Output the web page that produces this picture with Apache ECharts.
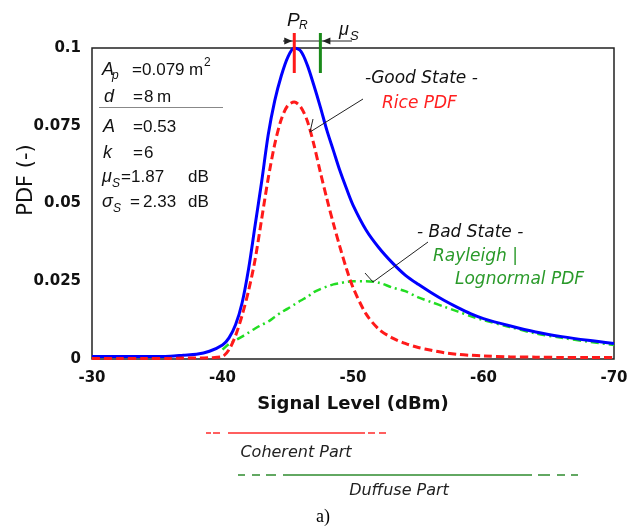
<!DOCTYPE html>
<html>
<head>
<meta charset="utf-8">
<script src="https://cdn.jsdelivr.net/npm/echarts@6.0.0/dist/echarts.min.js"></script>
<style>
html, body { margin: 0; padding: 0; background: #fff; }
#main { width: 640px; height: 527px; }
</style>
</head>
<body>
<div id="main"></div>
<script>
// signal level (dBm)
var levels = [-30, -32, -34, -36, -37, -38, -39, -40, -40.5, -41, -41.5, -42, -42.5, -43, -43.5,
    -44, -44.5, -45, -45.5, -46, -46.5, -47, -47.5, -48, -48.5, -49, -49.5, -50,
    -51, -52, -53, -54, -55, -56, -57, -58, -59, -60, -62, -64, -66, -68, -70];
// total pdf (blue)
var totalPdf = [0.0008, 0.0008, 0.0008, 0.0009, 0.0012, 0.0015, 0.0025, 0.0045,
    0.0068, 0.011, 0.018, 0.029, 0.043, 0.057, 0.072, 0.083, 0.091, 0.097, 0.1,
    0.099, 0.0945, 0.088, 0.081, 0.0735, 0.067, 0.0605, 0.0548, 0.0495,
    0.0415, 0.0357, 0.031, 0.027, 0.024, 0.0213, 0.0188, 0.0166, 0.0146, 0.013,
    0.0107, 0.0087, 0.0072, 0.006, 0.005];
// coherent part - Rice pdf (red)
var coherentPdf = [0.0002, 0.0002, 0.0002, 0.0002, 0.0003, 0.0003, 0.0004, 0.0008,
    0.003, 0.0075, 0.014, 0.022, 0.032, 0.045, 0.058, 0.069, 0.077, 0.0815, 0.0826,
    0.081, 0.0765, 0.069, 0.060, 0.0515, 0.0435, 0.036, 0.029, 0.023,
    0.0145, 0.0095, 0.0068, 0.005, 0.0037, 0.0028, 0.002, 0.0015, 0.0012, 0.001,
    0.0007, 0.0006, 0.0005, 0.0005, 0.0005];
// diffuse part - Rayleigh/Lognormal pdf (green)
var diffusePdf = [null, null, null, null, null, null, null, 0.003,
    0.0048, 0.006, 0.0072, 0.0085, 0.0098, 0.011, 0.012, 0.0135, 0.015, 0.0162, 0.0175,
    0.0188, 0.02, 0.0215, 0.0225, 0.0233, 0.024, 0.0244, 0.0248, 0.025,
    0.025, 0.0245, 0.023, 0.0218, 0.0198, 0.0183, 0.0168, 0.0153, 0.0138, 0.0125,
    0.0103, 0.0082, 0.0068, 0.0056, 0.0045];
var yTicks = [0, 0.025, 0.05, 0.075, 0.1];
var peakLevel = -45.5;   // P_R
var muLevel = -47.5;     // P_R - mu_S

function pairs(ys) {
    var out = [];
    for (var i = 0; i < levels.length; i++) out.push([levels[i], ys[i]]);
    return out;
}

function txt(x, y, s, size, opt) {
    opt = opt || {};
    var al = opt.align || 'left';
    return {
        type: 'text', x: x, y: y, silent: true, z: 100,
        rotation: opt.rotation || 0,
        style: {
            text: s, fontSize: size,
            fontFamily: opt.family || 'Liberation Sans',
            fontStyle: opt.italic ? 'italic' : 'normal',
            fontWeight: opt.bold ? 'bold' : 'normal',
            fill: opt.color || '#111',
            align: al, textAlign: al,
            verticalAlign: 'middle', textVerticalAlign: 'middle'
        }
    };
}

function seg(x1, y1, x2, y2, color, w, dash) {
    return {
        type: 'line', silent: true, z: 100,
        shape: {x1: x1, y1: y1, x2: x2, y2: y2},
        style: {stroke: color, lineWidth: w, lineDash: dash || null}
    };
}

function tri(pts, color) {
    return {type: 'polygon', silent: true, z: 100, shape: {points: pts}, style: {fill: color}};
}

var chart = echarts.init(document.getElementById('main'));

var option = {
    animation: false,
    backgroundColor: '#fff',
    grid: {
        left: 92, top: 48, width: 522, height: 311,
        show: true, borderColor: '#222', borderWidth: 1.5
    },
    xAxis: {
        type: 'value', min: -70, max: -30, interval: 10, inverse: true,
        name: 'Signal Level (dBm)', nameLocation: 'middle', nameGap: 36,
        nameTextStyle: {fontFamily: 'DejaVu Sans', fontWeight: 'bold', fontSize: 18, color: '#111'},
        axisLine: {show: false}, axisTick: {show: false}, splitLine: {show: false},
        axisLabel: {margin: 12, fontFamily: 'DejaVu Sans', fontWeight: 'bold', fontSize: 15, color: '#111'}
    },
    yAxis: {
        type: 'value', min: 0, max: 0.1, interval: 0.025,
        axisLine: {show: false}, axisTick: {show: false}, splitLine: {show: false},
        axisLabel: {
            margin: 11, fontFamily: 'DejaVu Sans', fontWeight: 'bold', fontSize: 15, color: '#111',
            formatter: function (v) {
                for (var i = 0; i < yTicks.length; i++) {
                    if (Math.abs(yTicks[i] - v) < 1e-9) return String(yTicks[i]);
                }
                return '';
            }
        }
    },
    series: [
        {
            name: 'Diffuse', type: 'line', data: pairs(diffusePdf), showSymbol: false,
            smooth: 0.3, connectNulls: false, z: 2,
            lineStyle: {color: '#22dd22', width: 2.5, type: [8, 4, 2, 4]}
        },
        {
            name: 'Total', type: 'line', data: pairs(totalPdf), showSymbol: false,
            smooth: 0.3, z: 3,
            lineStyle: {color: '#0000ff', width: 3}
        },
        {
            name: 'Coherent', type: 'line', data: pairs(coherentPdf), showSymbol: false,
            smooth: 0.3, z: 4,
            lineStyle: {color: '#ff1a1a', width: 3, type: [8, 4]}
        }
    ]
};

chart.setOption(option);

// annotations
var pr = chart.convertToPixel({gridIndex: 0}, [peakLevel, 0.1]);
var mu = chart.convertToPixel({gridIndex: 0}, [muLevel, 0.1]);
var px = pr[0], gx = mu[0], hy = pr[1] - 7;

var g = [
    // y axis title
    txt(27, 180, 'PDF (-)', 21, {family: 'DejaVu Sans', rotation: Math.PI / 2, align: 'center'}),

    // parameter box
    txt(102, 70, 'A', 18, {italic: true}), txt(112, 76, 'p', 12, {italic: true}),
    txt(132, 70, '=', 17), txt(142, 70, '0.079', 17), txt(189, 70, 'm', 17), txt(204, 63, '2', 12),
    txt(104, 97, 'd', 18, {italic: true}),
    txt(133, 97, '=', 17), txt(144, 97, '8', 17), txt(157, 97, 'm', 17),
    seg(99, 107.5, 223, 107.5, '#888', 1),
    txt(103, 127, 'A', 18, {italic: true}),
    txt(133, 127, '=', 17), txt(143, 127, '0.53', 17),
    txt(103, 153, 'k', 18, {italic: true}),
    txt(133, 153, '=', 17), txt(144, 153, '6', 17),
    txt(102, 177, 'μ', 18, {italic: true}), txt(112, 184, 'S', 12, {italic: true}),
    txt(121, 177, '=', 17), txt(131, 177, '1.87', 17), txt(188, 177, 'dB', 17),
    txt(102, 202, 'σ', 18, {italic: true}), txt(113, 209, 'S', 12, {italic: true}),
    txt(130, 202, '=', 17), txt(143, 202, '2.33', 17), txt(188, 202, 'dB', 17),

    // P_R and mu_S markers
    seg(283, hy, 352, hy, '#222', 1),
    tri([[px - 2, hy], [px - 10, hy - 3.5], [px - 10, hy + 3.5]], '#222'),
    tri([[gx + 2, hy], [gx + 10, hy - 3.5], [gx + 10, hy + 3.5]], '#222'),
    seg(px, 33, px, 73, '#ff1a1a', 3),
    seg(gx, 33, gx, 73, '#1a8a1a', 3),
    txt(287, 21, 'P', 19, {italic: true}), txt(299, 26, 'R', 12, {italic: true}),
    txt(339, 30, 'μ', 18, {italic: true}), txt(350, 36, 'S', 13, {italic: true}),

    // good state
    txt(365, 79, '-Good State -', 17, {family: 'DejaVu Sans', italic: true}),
    txt(382, 104, 'Rice PDF', 17, {family: 'DejaVu Sans', italic: true, color: '#ff2020'}),
    seg(363, 99, 310, 132, '#222', 1),
    seg(310, 132, 313, 119, '#222', 1),

    // bad state
    txt(417, 233, '- Bad State -', 17, {family: 'DejaVu Sans', italic: true}),
    txt(433, 257, 'Rayleigh |', 17, {family: 'DejaVu Sans', italic: true, color: '#2a9a2a'}),
    txt(455, 280, 'Lognormal PDF', 17, {family: 'DejaVu Sans', italic: true, color: '#2a9a2a'}),
    seg(428, 242, 373, 282, '#222', 1),
    seg(373, 282, 365, 273, '#222', 1),

    // parts legend
    seg(206, 433, 211, 433, '#ff2a2a', 1.5), seg(213, 433, 220, 433, '#ff2a2a', 1.5),
    seg(228, 433, 365, 433, '#ff2a2a', 1.5),
    seg(368, 433, 375, 433, '#ff2a2a', 1.5), seg(379, 433, 386, 433, '#ff2a2a', 1.5),
    txt(296, 453, 'Coherent Part', 16, {family: 'DejaVu Sans', italic: true, align: 'center', color: '#222'}),
    seg(238, 475, 245, 475, '#2e8b2e', 1.5), seg(252, 475, 260, 475, '#2e8b2e', 1.5),
    seg(266, 475, 276, 475, '#2e8b2e', 1.5),
    seg(283, 475, 532, 475, '#2e8b2e', 1.5),
    seg(538, 475, 550, 475, '#2e8b2e', 1.5), seg(557, 475, 565, 475, '#2e8b2e', 1.5),
    seg(571, 475, 578, 475, '#2e8b2e', 1.5),
    txt(399, 491, 'Duffuse Part', 16, {family: 'DejaVu Sans', italic: true, align: 'center', color: '#222'}),

    txt(323, 517, 'a)', 18, {family: 'Liberation Serif', align: 'center', color: '#000'})
];

chart.setOption({graphic: {elements: g}});
</script>
</body>
</html>
